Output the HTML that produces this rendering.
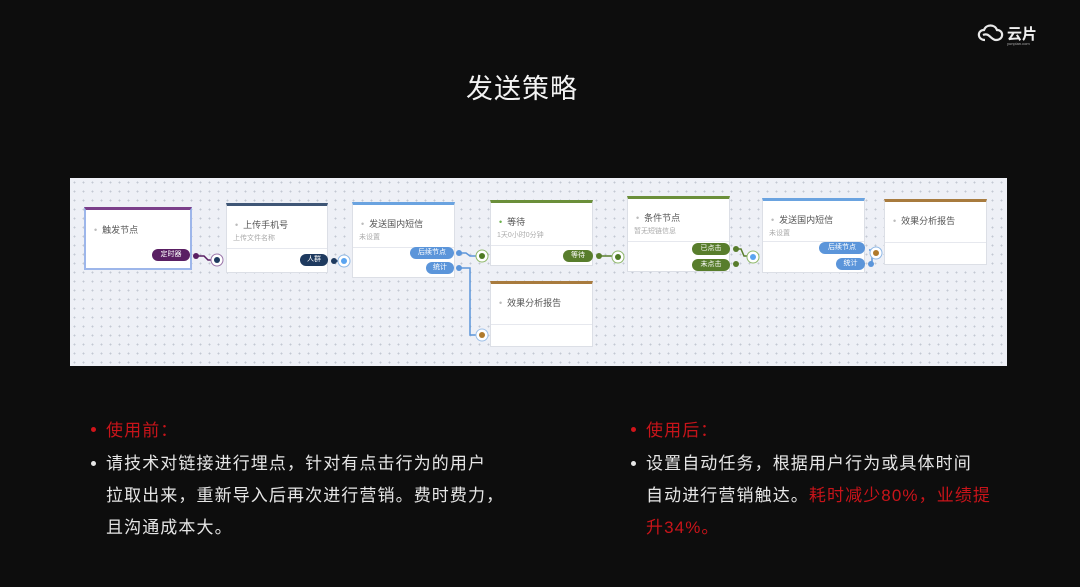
<!DOCTYPE html>
<html><head><meta charset="utf-8"><style>
*{margin:0;padding:0;box-sizing:border-box}
body{width:1080px;height:587px;background:#0d0d0d;position:relative;overflow:hidden;font-family:"Liberation Sans","Noto Sans CJK SC",sans-serif}
.abs{position:absolute}
#panel{left:70px;top:178px;width:937px;height:188px;background-color:#eef0f6;background-image:radial-gradient(#c3c7d2 0.8px,transparent 1.1px);background-size:9px 9px}
.node{position:absolute;background:#fff;border:1px solid #dcdfe6;border-top:3px solid #888}
.node .t{position:absolute;left:8px;top:12px;font-size:9px;color:#555;white-space:nowrap}
.node .t:before{content:"•";color:#bbb;margin-right:5px}
.node .t.g:before{color:#6ab04c}
.node .s{position:absolute;left:6px;top:27px;font-size:7px;color:#aaa;white-space:nowrap}
.node .d{position:absolute;left:0;right:0;border-top:1px solid #e6e8ee}
.pill{position:absolute;height:12px;border-radius:6px;color:#fff;font-size:7px;line-height:12px;text-align:center}
.txt{position:absolute;font-size:17px;color:#e6e6e6;letter-spacing:1.1px;line-height:32px;white-space:nowrap}
.red{color:#c8141a}
</style></head><body>
<div class="abs" style="left:466px;top:67px;font-size:27px;color:#f2f2f2;letter-spacing:1px">发送策略</div>
<svg class="abs" style="left:975px;top:22px" width="72" height="26" viewBox="0 0 72 26">
<path d="M10 18 C2 18 2 8 9 8 C11 2 20 2 22 8 C29 8 29 18 21 18 C16 18 14 10 8 13" fill="none" stroke="#e8e8e8" stroke-width="2.2"/>
<text x="32" y="17" font-size="15" fill="#eee" font-family="Noto Sans CJK SC,sans-serif" font-weight="bold">云片</text>
<text x="32" y="23" font-size="4" fill="#aaa" font-family="Liberation Sans,sans-serif">yunpian.com</text>
</svg>

<div id="panel" class="abs"></div>

<div class="node" style="left:84px;top:207px;width:108px;height:63px;border:2px solid #9db6ea;border-top:3px solid #7b3f8a"><div class="t" style="top:13px">触发节点</div></div>
<div class="pill" style="left:152px;top:249px;width:38px;background:#5a1f63">定时器</div>

<div class="node" style="left:226px;top:203px;width:102px;height:70px;border-top-color:#3f5676"><div class="t">上传手机号</div><div class="s">上传文件名称</div><div class="d" style="top:42px"></div></div>
<div class="pill" style="left:300px;top:254px;width:28px;background:#1e3a5f">人群</div>

<div class="node" style="left:352px;top:202px;width:103px;height:76px;border-top-color:#6aa3e0"><div class="t">发送国内短信</div><div class="s">未设置</div><div class="d" style="top:42px"></div></div>
<div class="pill" style="left:410px;top:247px;width:44px;background:#5b95da">后续节点</div>
<div class="pill" style="left:426px;top:262px;width:28px;background:#5b95da">统计</div>

<div class="node" style="left:490px;top:200px;width:103px;height:66px;border-top-color:#6b8f3a"><div class="t g" style="top:12px">等待</div><div class="s">1天0小时0分钟</div><div class="d" style="top:42px"></div></div>
<div class="pill" style="left:563px;top:250px;width:30px;background:#587d2c">等待</div>

<div class="node" style="left:490px;top:281px;width:103px;height:66px;border-top-color:#a87b3e"><div class="t">效果分析报告</div><div class="d" style="top:40px"></div></div>

<div class="node" style="left:627px;top:196px;width:103px;height:76px;border-top-color:#6b8f3a"><div class="t">条件节点</div><div class="s">暂无短链信息</div><div class="d" style="top:42px"></div></div>
<div class="pill" style="left:692px;top:243px;width:38px;background:#587d2c">已点击</div>
<div class="pill" style="left:692px;top:259px;width:38px;background:#587d2c">未点击</div>

<div class="node" style="left:762px;top:198px;width:103px;height:75px;border-top-color:#6aa3e0"><div class="t">发送国内短信</div><div class="s">未设置</div><div class="d" style="top:40px"></div></div>
<div class="pill" style="left:819px;top:242px;width:46px;background:#5b95da">后续节点</div>
<div class="pill" style="left:836px;top:258px;width:29px;background:#5b95da">统计</div>

<div class="node" style="left:884px;top:199px;width:103px;height:66px;border-top-color:#a87b3e"><div class="t">效果分析报告</div><div class="d" style="top:40px"></div></div>

<svg class="abs" style="left:0;top:0" width="1080" height="587">
<g fill="none" stroke-width="1.5">
<path d="M196 256 H204 L208 260 H214" stroke="#5a1f63"/>
<path d="M333 261 H340" stroke="#1e3a5f"/>
<path d="M459 253 H466 L470 256 H478" stroke="#5b95da"/>
<path d="M459 268 H470 V335 H478" stroke="#5b95da"/>
<path d="M598 256 H614" stroke="#587d2c"/>
<path d="M735 249 H741 L744 256 H749" stroke="#587d2c"/>
<path d="M869 250 H873" stroke="#5b95da"/>
<path d="M869 264 H872 V257" stroke="#5b95da"/>
</g>
<g>
<circle cx="196" cy="256" r="3" fill="#5a1f63"/>
<circle cx="217" cy="260" r="6" fill="#fff" stroke="#9a73a8"/><circle cx="217" cy="260" r="3" fill="#1e3a5f"/>
<circle cx="334" cy="261" r="3" fill="#1e3a5f"/>
<circle cx="344" cy="261" r="6" fill="#fff" stroke="#8fb8e6"/><circle cx="344" cy="261" r="3" fill="#5ba4f0"/>
<circle cx="459" cy="253" r="3" fill="#5b95da"/><circle cx="459" cy="268" r="3" fill="#5b95da"/>
<circle cx="482" cy="256" r="6" fill="#fff" stroke="#8fb86a"/><circle cx="482" cy="256" r="3" fill="#4e7a22"/>
<circle cx="482" cy="335" r="6" fill="#fff" stroke="#9ec0e8"/><circle cx="482" cy="335" r="3" fill="#b07a2c"/>
<circle cx="599" cy="256" r="3" fill="#587d2c"/>
<circle cx="618" cy="257" r="6" fill="#fff" stroke="#8fb86a"/><circle cx="618" cy="257" r="3" fill="#4e7a22"/>
<circle cx="736" cy="249" r="3" fill="#587d2c"/><circle cx="736" cy="264" r="3" fill="#587d2c"/>
<circle cx="753" cy="257" r="6" fill="#fff" stroke="#8fb86a"/><circle cx="753" cy="257" r="3" fill="#5ba4f0"/>
<circle cx="871" cy="264" r="3" fill="#5b95da"/>
<circle cx="876" cy="253" r="6" fill="#fff" stroke="#8fb8e6"/><circle cx="876" cy="253" r="3" fill="#b07a2c"/>
</g>
</svg>

<div class="abs" style="left:91px;top:427px;width:5px;height:5px;border-radius:3px;background:#d0141a"></div>
<div class="txt red" style="left:106px;top:415px">使用前：</div>
<div class="abs" style="left:91px;top:461px;width:5px;height:5px;border-radius:3px;background:#e6e6e6"></div>
<div class="txt" style="left:106px;top:448px">请技术对链接进行埋点，针对有点击行为的用户<br>拉取出来，重新导入后再次进行营销。费时费力，<br>且沟通成本大。</div>

<div class="abs" style="left:631px;top:427px;width:5px;height:5px;border-radius:3px;background:#d0141a"></div>
<div class="txt red" style="left:646px;top:415px">使用后：</div>
<div class="abs" style="left:631px;top:461px;width:5px;height:5px;border-radius:3px;background:#e6e6e6"></div>
<div class="txt" style="left:646px;top:448px">设置自动任务，根据用户行为或具体时间<br>自动进行营销触达。<span class="red">耗时减少80%，业绩提</span><br><span class="red">升34%。</span></div>
</body></html>
